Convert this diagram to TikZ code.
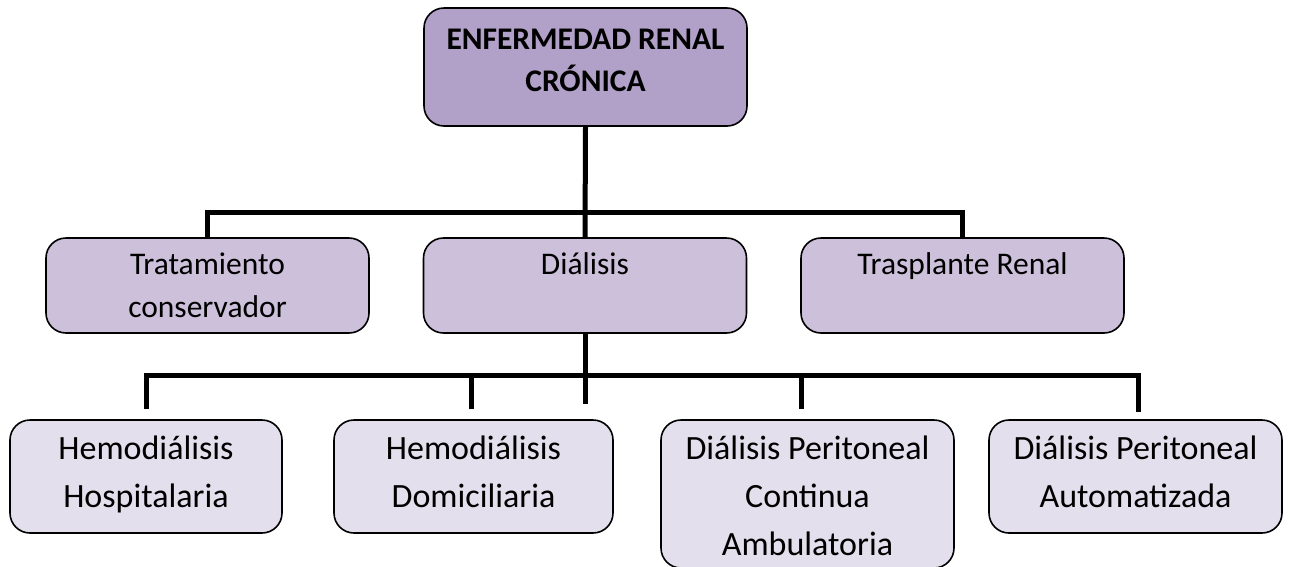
\documentclass[tikz,border=0pt]{standalone}
\usepackage{fontspec}
\setmainfont{Carlito}
\usetikzlibrary{calc}
\definecolor{topfill}{HTML}{B1A0C7}
\definecolor{midfill}{HTML}{CCC0DA}
\definecolor{lowfill}{HTML}{E4DFEC}
\newcommand{\stacklines}[2]{\vtop{\baselineskip=#1\relax\lineskiplimit=-100pt\halign{\hfil##\hfil\cr #2\crcr}}}
\begin{document}
\begin{tikzpicture}[x=1pt,y=-1pt,
  box/.style={draw=black, line width=1.6pt, rounded corners=20pt, inner sep=0pt, anchor=center},
  topbox/.style={box, fill=topfill, minimum width=323pt, minimum height=118pt},
  midbox/.style={box, fill=midfill, minimum width=323pt, minimum height=95pt},
  lowbox/.style={box, fill=lowfill, minimum height=113pt},
  conn/.style={line width=5pt},
  lbl/.style={inner sep=0pt, anchor=base},
  toptxt/.style={lbl, font=\fontsize{31.5pt}{42pt}\selectfont\bfseries},
  midtxt/.style={lbl, font=\fontsize{31.5pt}{43pt}\selectfont},
  lowtxt/.style={lbl, font=\fontsize{34pt}{48pt}\selectfont}]
\useasboundingbox (0,0) rectangle (1295,566);

% boxes
\node[topbox] (top) at (585.5,67) {};
\node[midbox] (trat) at (207.5,285.5) {};
\node[midbox] (dia) at (585,285.5) {};
\node[midbox] (tras) at (962.5,285.5) {};
\node[lowbox, minimum width=272pt] (hh) at (146,476.5) {};
\node[lowbox, minimum width=279pt] (hd) at (473.5,476.5) {};
\node[lowbox, minimum width=293pt, minimum height=148pt] (dpca) at (807.5,494) {};
\node[lowbox, minimum width=293pt] (dpa) at (1135.5,476.5) {};

% texts
\node[toptxt] (ttop) at ([yshift=-42pt]top.north) {\stacklines{42pt}{ENFERMEDAD RENAL\cr CRÓNICA}};
\node[midtxt] (ttrat) at ([yshift=-37pt]trat.north) {\stacklines{43pt}{Tratamiento\cr conservador}};
\node[midtxt] (tdia) at ([yshift=-37pt]dia.north) {Diálisis};
\node[midtxt] (ttras) at ([yshift=-37pt]tras.north) {Trasplante Renal};
\node[lowtxt] (thh) at ([yshift=-40pt]hh.north) {\stacklines{48pt}{Hemodiálisis\cr Hospitalaria}};
\node[lowtxt] (thd) at ([yshift=-40pt]hd.north) {\stacklines{48pt}{Hemodiálisis\cr Domiciliaria}};
\node[lowtxt] (tdpca) at ([yshift=-40pt]dpca.north) {\stacklines{48pt}{Diálisis Peritoneal\cr Continua\cr Ambulatoria}};
\node[lowtxt] (tdpa) at ([yshift=-40pt]dpa.north) {\stacklines{48pt}{Diálisis Peritoneal\cr Automatizada}};

% connector coordinates
\coordinate (bar1) at (585,212);
\coordinate (bar2) at (585,375);
\coordinate (dend) at (585,404);
\coordinate (e1) at ($(hh.north)+(0,10pt)$);
\coordinate (e2) at ($(hd.north)+(-2.5,10pt)$);
\coordinate (e3) at ($(dpca.north)+(-6.5,10pt)$);
\coordinate (e4) at ($(dpa.north)+(2.5,7pt)$);

% connectors
\draw[conn] (top.south) -- (dia.north);
\draw[conn] (trat.north) |- (bar1) -| (tras.north);
\draw[conn] (dia.south) -- (dend);
\draw[conn] (e1) |- (bar2) -| (e4);
\draw[conn] (e2) -- (e2 |- bar2);
\draw[conn] (e3) -- (e3 |- bar2);
\end{tikzpicture}
\end{document}
